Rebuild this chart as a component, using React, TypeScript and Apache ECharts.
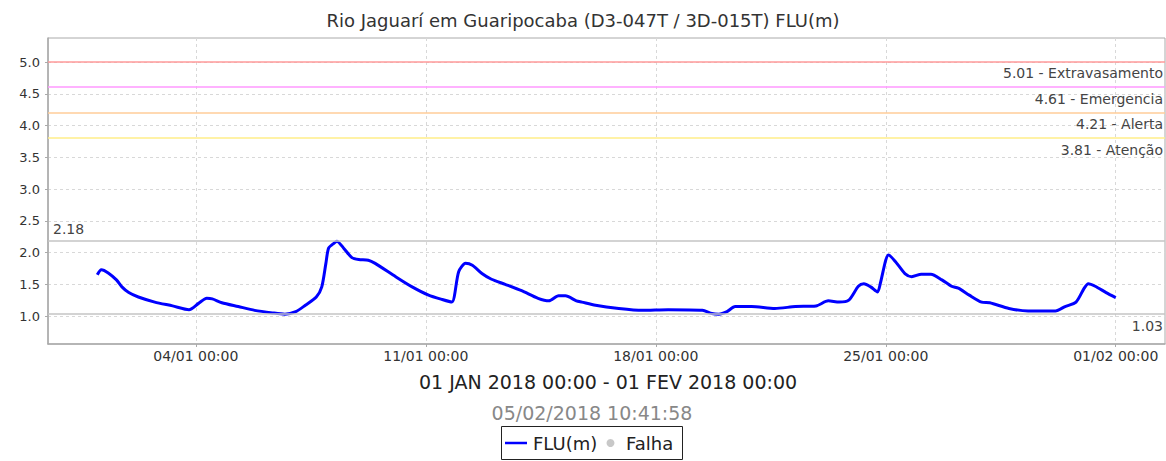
import React, { useEffect, useRef } from 'react';
import * as echarts from 'echarts';

const FONT = "'DejaVu Sans', 'Noto Sans', sans-serif";
const TITLE = 'Rio Jaguarí em Guaripocaba (D3-047T / 3D-015T) FLU(m)';
const PERIOD_LABEL = '01 JAN 2018 00:00 - 01 FEV 2018 00:00';
const GENERATED_AT = '05/02/2018 10:41:58';

// hours since 01/01/2018 00:00
const hours = [
  0, 3, 8, 14, 18, 23, 30, 42, 55, 67,
  74, 80, 84, 91, 103, 115, 128, 137, 145, 152,
  160, 164, 167, 169, 173, 175, 180, 186, 191, 198,
  203, 218, 230, 242, 252, 259, 264, 269, 274, 281,
  288, 298, 310, 322, 330, 337, 342, 350, 354, 364,
  381, 398, 417, 442, 449, 454, 460, 466, 478, 495,
  510, 525, 534, 542, 549, 556, 560, 565, 570, 572,
  576, 578, 583, 590, 595, 602, 609, 617, 624, 629,
  637, 646, 652, 666, 680, 690, 700, 707, 715, 721,
  724, 729, 737, 744,
];
const levels = [
  1.65, 1.73, 1.68, 1.57, 1.46, 1.37, 1.30, 1.22, 1.16, 1.10,
  1.20, 1.28, 1.27, 1.21, 1.15, 1.09, 1.05, 1.03, 1.07, 1.17,
  1.30, 1.46, 1.83, 2.07, 2.15, 2.18, 2.07, 1.92, 1.89, 1.88,
  1.83, 1.62, 1.46, 1.33, 1.26, 1.22, 1.70, 1.83, 1.80, 1.67,
  1.58, 1.50, 1.40, 1.28, 1.24, 1.32, 1.32, 1.24, 1.22, 1.17,
  1.12, 1.09, 1.10, 1.09, 1.04, 1.03, 1.07, 1.15, 1.15, 1.12,
  1.15, 1.16, 1.24, 1.22, 1.25, 1.47, 1.51, 1.46, 1.38, 1.51,
  1.88, 1.96, 1.86, 1.67, 1.62, 1.66, 1.66, 1.57, 1.47, 1.44,
  1.33, 1.22, 1.21, 1.12, 1.08, 1.08, 1.08, 1.15, 1.22, 1.44,
  1.51, 1.47, 1.37, 1.29,
];

const xTickHours = [72, 240, 408, 576, 744];
const xTickLabels = ['04/01 00:00', '11/01 00:00', '18/01 00:00', '25/01 00:00', '01/02 00:00'];
const yTicks = [1.0, 1.5, 2.0, 2.5, 3.0, 3.5, 4.0, 4.5, 5.0];

const thresholdValues = [5.01, 4.61, 4.21, 3.81];
const thresholdNames = ['Extravasamento', 'Emergencia', 'Alerta', 'Atenção'];
const thresholdColors = ['#ff9a9a', '#ff99ff', '#ffcc99', '#ffee88'];
const maxLevel = 2.18;
const minLevel = 1.03;

export default function App() {
  const ref = useRef<HTMLDivElement>(null);

  useEffect(() => {
    if (!ref.current) return;
    const chart = echarts.init(ref.current, null, { renderer: 'svg' });

    const data = hours.map((h, i) => [h, levels[i]]);
    const labelStyle = { color: '#444', fontSize: 14, fontFamily: FONT };

    const markData: any[] = thresholdValues.map((v, i) => ({
      yAxis: v,
      lineStyle: { color: thresholdColors[i], width: 1.5, type: 'solid' },
      label: {
        ...labelStyle,
        position: 'insideEndBottom',
        distance: [2, 5],
        formatter: `${v.toFixed(2)} - ${thresholdNames[i]}`,
      },
    }));
    markData.push({
      yAxis: maxLevel,
      lineStyle: { color: '#c4c4c4', width: 1.5, type: 'solid' },
      label: { ...labelStyle, position: 'insideStartTop', distance: [5, 5], formatter: maxLevel.toFixed(2) },
    });
    markData.push({
      yAxis: minLevel,
      lineStyle: { color: '#c4c4c4', width: 1.5, type: 'solid' },
      label: { ...labelStyle, position: 'insideEndBottom', distance: [2, 5], formatter: minLevel.toFixed(2) },
    });

    chart.setOption({
      animation: false,
      title: {
        text: TITLE,
        left: 'center',
        top: 6,
        textStyle: { fontFamily: FONT, fontSize: 18, fontWeight: 'normal', color: '#333' },
      },
      grid: {
        left: 48,
        right: 1,
        top: 38,
        bottom: 117,
        show: true,
        borderColor: '#aaa',
        borderWidth: 1,
      },
      xAxis: {
        type: 'value',
        min: -36,
        max: 780,
        axisLine: { show: true, onZero: false, lineStyle: { color: '#aaa', width: 1.5 } },
        axisTick: { show: true, length: 3, lineStyle: { color: '#aaa' }, customValues: xTickHours },
        axisLabel: {
          customValues: xTickHours,
          formatter: (v: number) => {
            const idx = xTickHours.indexOf(Math.round(v));
            return idx >= 0 ? xTickLabels[idx] : '';
          },
          fontFamily: FONT,
          fontSize: 14,
          color: '#333',
          margin: 5,
        },
        splitLine: { show: true, lineStyle: { type: [3, 3], color: '#d8d8d8' } },
      },
      yAxis: {
        type: 'value',
        min: 0.56,
        max: 5.38,
        axisLine: { show: true, onZero: false, lineStyle: { color: '#aaa', width: 1.5 } },
        axisTick: { show: true, length: 3, lineStyle: { color: '#aaa' }, customValues: yTicks },
        axisLabel: {
          customValues: yTicks,
          formatter: (v: number) => v.toFixed(1),
          fontFamily: FONT,
          fontSize: 13,
          color: '#333',
          margin: 8,
        },
        splitLine: { show: true, lineStyle: { type: [3, 3], color: '#d8d8d8' } },
      },
      series: [
        {
          name: 'FLU(m)',
          type: 'line',
          data,
          showSymbol: false,
          smooth: 0.25,
          lineStyle: { color: '#0000ff', width: 3 },
          itemStyle: { color: '#0000ff' },
          markLine: {
            silent: true,
            symbol: ['none', 'none'],
            data: markData,
          },
        },
      ],
      graphic: [
        {
          type: 'text',
          x: 608,
          y: 382,
          style: {
            text: PERIOD_LABEL,
            fill: '#222',
            font: `19px ${FONT}`,
            textAlign: 'center',
            textVerticalAlign: 'middle',
          },
        },
        {
          type: 'text',
          x: 592,
          y: 413,
          style: {
            text: GENERATED_AT,
            fill: '#888',
            font: `19px ${FONT}`,
            textAlign: 'center',
            textVerticalAlign: 'middle',
          },
        },
        {
          type: 'rect',
          shape: { x: 501.5, y: 426.5, width: 181, height: 33 },
          style: { fill: '#fff', stroke: '#222', lineWidth: 1 },
        },
        {
          type: 'line',
          shape: { x1: 505, y1: 443, x2: 527, y2: 443 },
          style: { stroke: '#0000ff', lineWidth: 2.5 },
        },
        {
          type: 'text',
          x: 533,
          y: 443,
          style: { text: 'FLU(m)', fill: '#222', font: `18px ${FONT}`, textVerticalAlign: 'middle' },
        },
        {
          type: 'circle',
          shape: { cx: 610.5, cy: 443, r: 4 },
          style: { fill: '#c8c8c8' },
        },
        {
          type: 'text',
          x: 626,
          y: 443,
          style: { text: 'Falha', fill: '#222', font: `18px ${FONT}`, textVerticalAlign: 'middle' },
        },
      ],
    });

    return () => chart.dispose();
  }, []);

  return (
    <div
      ref={ref}
      style={{ position: 'absolute', left: 0, top: 0, width: 1166, height: 461 }}
    />
  );
}
